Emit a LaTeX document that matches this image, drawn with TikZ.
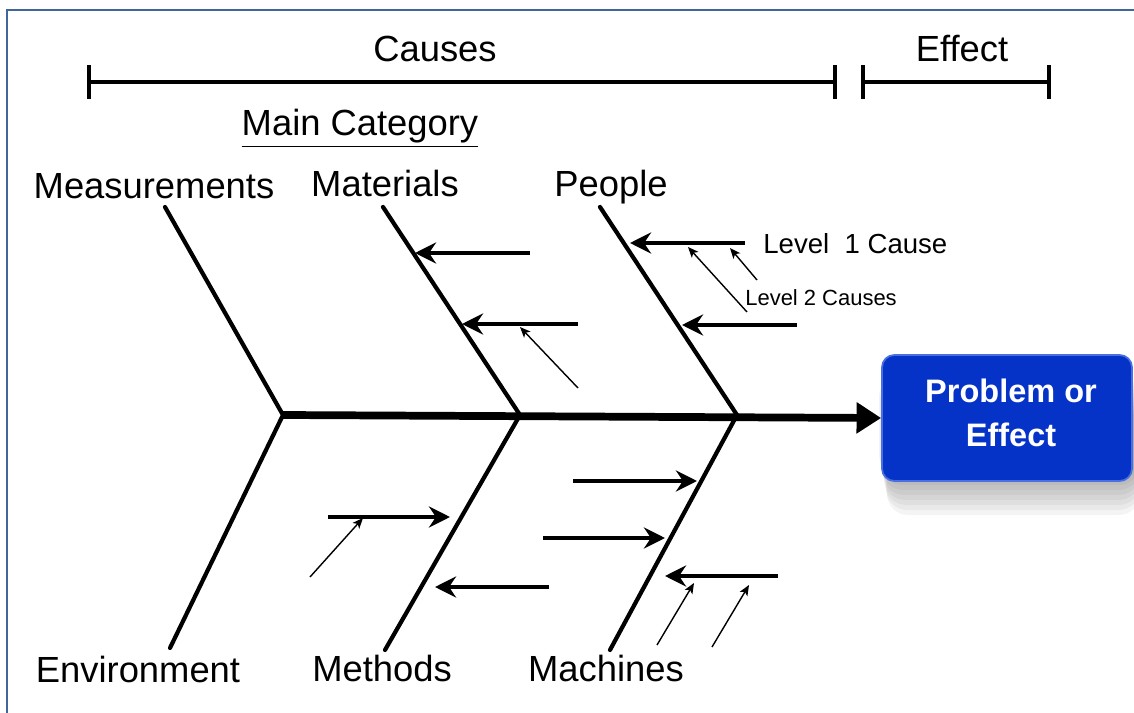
\documentclass[tikz,border=0pt]{standalone}
\usepackage{fontspec}
\setmainfont{Liberation Sans}
\usetikzlibrary{arrows.meta,positioning}
\definecolor{frameblue}{HTML}{41679A}
\definecolor{boxblue}{HTML}{0533C8}
\definecolor{boxrim}{HTML}{4A6FE0}

\begin{document}
\begin{tikzpicture}[
  x=0.02cm, y=-0.02cm,
  cat/.style={font=\fontsize{20.7}{24}\selectfont, inner sep=0pt, anchor=base},
  bone/.style={line width=2.4pt, line cap=round},
  spine/.style={-{Triangle[length=14pt,width=17pt]}, line width=4.4pt},
  cause/.style={-{Stealth[length=12pt,width=12pt,inset=4pt]}, line width=2.8pt},
  subcause/.style={-{Stealth[length=6pt,width=5pt,inset=1.5pt]}, line width=0.8pt},
  span/.style={{Bar[width=19pt]}-{Bar[width=19pt]}, line width=2.2pt},
  effectbox/.style={fill=boxblue, draw=boxrim, line width=1pt, rounded corners=7pt,
    minimum width=5cm, minimum height=2.52cm},
  effecttext/.style={text=white, align=center, inner sep=0pt,
    font=\bfseries\fontsize{18.5}{25}\selectfont}
]
\useasboundingbox (0,0) rectangle (1134,713);
\draw[frameblue, line width=1.2pt] (1134,10) -- (7,10) -- (7,713);

% causes / effect scale
\coordinate (cl) at (87,82);
\coordinate (cr) at (837,82);
\coordinate (el) at (861,82);
\coordinate (er) at (1051,82);
\draw[span] (cl) -- (cr);
\draw[span] (el) -- (er);
\node[cat] (causes) at (435,62) {Causes};
\node[cat] (effect) at (962,62) {Effect};
\node[cat] (maincat) at (360,136) {\underline{Main Category}};

% soft shadow under the head
\foreach \k in {1,...,9}
  \fill[black, opacity=0.045, rounded corners=12pt]
    (878+\k,372+4*\k) rectangle (1140,470+5*\k);

% spine and head
\node[effectbox] (problem) at (1007,418) {};
\node[effecttext] (problemtext) at (1011,413) {Problem or\\Effect};
\coordinate (tail) at (283,415);
\coordinate (j1) at (520,415);
\coordinate (j2) at (737,415);
\draw[spine] (tail) -- (problem.west);

% main bones
\coordinate (meas) at (165,207);
\coordinate (mate) at (383,207);
\coordinate (peop) at (600,207);
\coordinate (envi) at (170,648);
\coordinate (meth) at (385,650);
\coordinate (mach) at (610,650);
\draw[bone] (meas) -- (tail) -- (envi);
\draw[bone] (mate) -- (j1) -- (meth);
\draw[bone] (peop) -- (j2) -- (mach);

\node[cat] (measurements) at (154,199) {Measurements};
\node[cat] (materials) at (385,197) {Materials};
\node[cat] (people) at (611,196) {People};
\node[cat] (environment) at (138,682) {Environment};
\node[cat] (methods) at (382,681) {Methods};
\node[cat] (machines) at (606,681) {Machines};

% level 1 causes
\foreach \sx/\tx/\y [count=\i] in {530/415/253, 578/462/324, 745/630/243, 797/682/325,
    328/450/517, 549/435/587, 573/697/481, 543/665/538, 778/665/576}{
  \coordinate (a\i) at (\sx,\y);
  \coordinate (b\i) at (\tx,\y);
  \draw[cause] (a\i) -- (b\i);
}

% level 2 causes
\foreach \sx/\sy/\tx/\ty [count=\i] in {578/388/520/327, 747/312/688/247, 757/280/730/248,
    310/577/363/518, 657/645/694/583, 712/647/749/585}{
  \coordinate (s\i) at (\sx,\sy);
  \coordinate (t\i) at (\tx,\ty);
  \draw[subcause] (s\i) -- (t\i);
}

\node[font=\fontsize{15.7}{18}\selectfont, inner sep=0pt, anchor=base west] (lvl1) at (763,254) {Level\ \ 1 Cause};
\node[font=\fontsize{12.5}{15}\selectfont, inner sep=0pt, anchor=base west] (lvl2) at (745,306) {Level 2 Causes};
\end{tikzpicture}
\end{document}
